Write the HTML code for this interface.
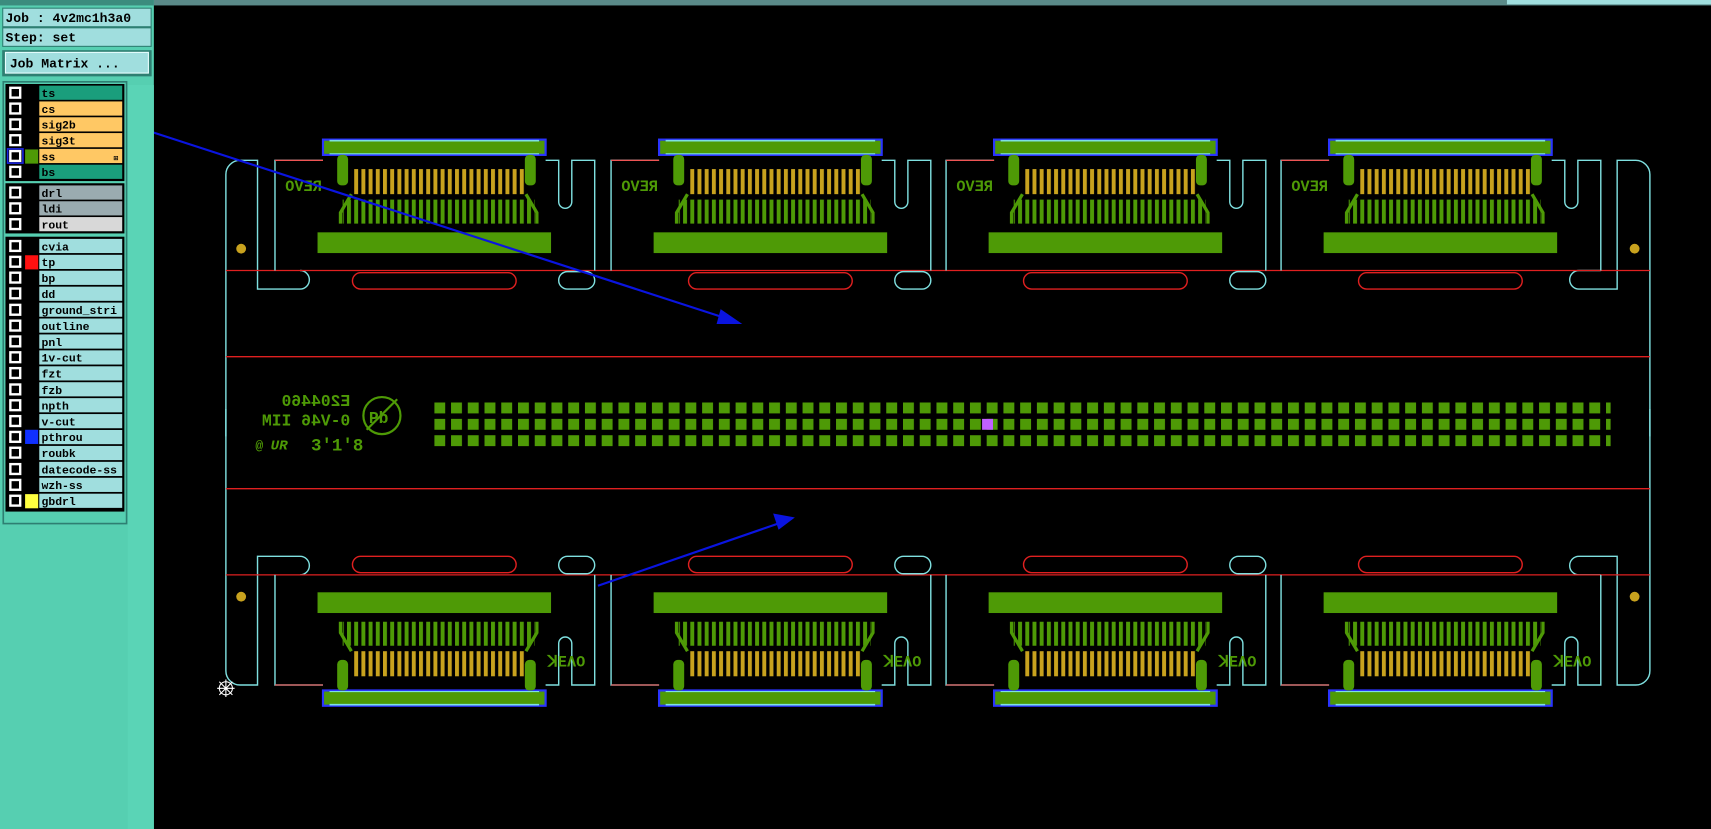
<!DOCTYPE html>
<html><head><meta charset="utf-8"><style>
html,body{margin:0;padding:0;background:#000;overflow:hidden}
svg{display:block}
text{font-family:"Liberation Mono","DejaVu Sans Mono",monospace;font-weight:bold}
</style></head><body>
<svg width="1711" height="829" viewBox="0 0 1568 760" preserveAspectRatio="none" xmlns="http://www.w3.org/2000/svg">
<defs>
<pattern id="fy" x="0" y="0" width="6.6" height="10" patternUnits="userSpaceOnUse"><rect x="0" y="0" width="3.6" height="10" fill="#c8a21e"/></pattern>
<pattern id="fg" x="0" y="0" width="6.6" height="10" patternUnits="userSpaceOnUse"><rect x="0" y="0" width="3.6" height="10" fill="#4e9a06"/></pattern>
<pattern id="pd" x="398" y="369" width="15.34" height="15" patternUnits="userSpaceOnUse"><rect x="0" y="0" width="10" height="10" fill="#4e9a06"/></pattern>
<g id="unit">
  <rect x="44" y="128" width="204" height="14" fill="#4e9a06" stroke="#2a34ff" stroke-width="2"/>
  <line x1="50" y1="129" x2="242" y2="129" stroke="#7fe0e0" stroke-width="1.5"/>
  <line x1="50" y1="141" x2="242" y2="141" stroke="#7fe0e0" stroke-width="1"/>
  <rect x="57" y="142" width="10" height="28" rx="4" fill="#4e9a06"/>
  <rect x="229" y="142" width="10" height="28" rx="4" fill="#4e9a06"/>
  <rect x="70" y="155" width="160" height="23" fill="url(#fy)"/>
  <path d="M70,178 L60,195 V205 M230,178 L240,195 V205" stroke="#4e9a06" stroke-width="3" fill="none"/>
  <rect x="62" y="183" width="176" height="22" fill="url(#fg)"/>
  <rect x="39" y="213" width="214" height="19" fill="#4e9a06"/>
  <path d="M0,248 V147 H44" stroke="#7fe0e0" stroke-width="1.3" fill="none"/>
  <line x1="0" y1="147" x2="44" y2="147" stroke="#ff4040" stroke-width="1"/>
  <path d="M248,147 H260 V185 A6 6 0 0 0 272,185 V147 H293 V248" stroke="#7fe0e0" stroke-width="1.3" fill="none"/>
  <rect x="71" y="250" width="150" height="15" rx="7.5" stroke="#e02020" stroke-width="1.3" fill="none"/>
</g>
<rect id="tab" x="0" y="249" width="33" height="16" rx="8" stroke="#7fe0e0" stroke-width="1.3" fill="none"/>
<g id="half">
  <path d="M207,400 V160 A13 13 0 0 1 220,147 H236 V265 H275 A8.5 8.5 0 0 0 275,248" stroke="#7fe0e0" stroke-width="1.3" fill="none"/>
  <path d="M1512,400 V160 A13 13 0 0 0 1499,147 H1482 V265 H1447 A8.5 8.5 0 0 1 1447,248 H1467" stroke="#7fe0e0" stroke-width="1.3" fill="none"/>
  <circle cx="221" cy="228" r="4.5" fill="#c8a21e"/>
  <circle cx="1498" cy="228" r="4.5" fill="#c8a21e"/>
  <line x1="207" y1="248" x2="1512" y2="248" stroke="#e02020" stroke-width="1.2"/>
  <line x1="207" y1="327" x2="1512" y2="327" stroke="#e02020" stroke-width="1.2"/>
  <use href="#unit" x="252"/><use href="#unit" x="560"/><use href="#unit" x="867"/><use href="#unit" x="1174"/>
  <use href="#tab" x="512"/><use href="#tab" x="820"/><use href="#tab" x="1127"/>
</g>
</defs>
<rect width="1568" height="760" fill="#000"/>
<use href="#half"/>
<use href="#half" transform="matrix(1 0 0 -1 0 775)"/>
<g fill="#4e9a06" font-size="14">
<text x="265" y="175" transform="matrix(-1 0 0 1 560 0)">REVO</text>
<text x="572" y="175" transform="matrix(-1 0 0 1 1175 0)">REVO</text>
<text x="880" y="175" transform="matrix(-1 0 0 1 1790 0)">REVO</text>
<text x="1187" y="175" transform="matrix(-1 0 0 1 2404 0)">REVO</text>
<text x="502" y="611">ꓘEΛO</text><text x="810" y="611">ꓘEΛO</text><text x="1117" y="611">ꓘEΛO</text><text x="1424" y="611">ꓘEΛO</text>
</g>
<g fill="#4e9a06" font-size="15" font-weight="normal">
<text x="0" y="0" transform="matrix(-1 0 0 1 321 372)">E204460</text>
<text x="0" y="0" transform="matrix(-1 0 0 1 321 390)">0-V46 IIM</text>
<text x="285" y="413" font-size="16">3'1'8</text>
<text x="234" y="412" font-size="12">@</text><text x="248" y="412" font-size="13" font-style="italic">UR</text>
</g>
<circle cx="350" cy="381" r="17" stroke="#4e9a06" stroke-width="2" fill="none"/>
<line x1="336" y1="394" x2="364" y2="366" stroke="#4e9a06" stroke-width="2"/>
<text x="338" y="388" fill="#4e9a06" font-size="15">Pb</text>
<rect x="398" y="369" width="1078" height="42" fill="url(#pd)"/>
<rect x="900" y="384" width="10" height="10" fill="#c060ff"/>
<g stroke="#fff" stroke-width="1" fill="none"><circle cx="207" cy="631" r="6"/><path d="M199,631H215M207,623V639M201,625L213,637M213,625L201,637"/></g>
<g stroke="#0a14e0" stroke-width="2" fill="#0a14e0">
<line x1="136" y1="120" x2="666" y2="292"/><polygon points="677,296 661,285 658,296"/>
<line x1="548" y1="537" x2="716" y2="479"/><polygon points="726,475 710,472 714,484"/>
</g>
<rect x="0" y="0" width="1568" height="5" fill="#5a8a88"/>
<rect x="1381" y="0" width="187" height="4" fill="#a0dede"/>
<rect x="0" y="0" width="141" height="760" fill="#56cfb1"/>
<rect x="0" y="0" width="141" height="5" fill="#3b8c7e"/>
<rect x="2" y="7" width="137" height="36" fill="#2e7f72"/>
<rect x="3" y="8" width="135" height="16" fill="#a0dede"/>
<rect x="3" y="26" width="135" height="16" fill="#a0dede"/>
<text x="5" y="20" font-size="12" font-weight="normal">Job : 4v2mc1h3a0</text>
<text x="5" y="38" font-size="12" font-weight="normal">Step: set</text>
<rect x="2" y="46" width="137" height="24" fill="#2e7f72"/>
<rect x="5" y="48" width="131" height="19" fill="#a0dede" stroke="#e8ffff" stroke-width="1"/>
<text x="9" y="62" font-size="12" font-weight="normal">Job Matrix ...</text>
<rect x="117" y="78" width="24" height="682" fill="#5ad4b6"/>
<rect x="3" y="75" width="113" height="405" fill="#56cfb1" stroke="#2e7f72" stroke-width="1.5"/>
<rect x="5" y="77" width="109" height="89" fill="#000"/>
<rect x="5" y="168" width="109" height="46" fill="#000"/>
<rect x="5" y="217" width="109" height="252" fill="#000"/>
<g font-size="10.5">
<rect x="36" y="78.5" width="76" height="13" fill="#1a9e7c"/><text x="38" y="89">ts</text>
<rect x="36" y="93" width="76" height="13" fill="#ffc864"/><text x="38" y="103.5">cs</text>
<rect x="36" y="107.5" width="76" height="13" fill="#ffc864"/><text x="38" y="118">sig2b</text>
<rect x="36" y="122" width="76" height="13" fill="#ffc864"/><text x="38" y="132.5">sig3t</text>
<rect x="36" y="136.5" width="76" height="13" fill="#ffc864"/><text x="38" y="147">ss</text><text x="104" y="147" font-size="7">⊞</text>
<rect x="36" y="151" width="76" height="13" fill="#1a9e7c"/><text x="38" y="161.5">bs</text>
<rect x="36" y="170" width="76" height="13" fill="#9aabb0"/><text x="38" y="180.5">drl</text>
<rect x="36" y="184.5" width="76" height="13" fill="#9aabb0"/><text x="38" y="195">ldi</text>
<rect x="36" y="199" width="76" height="13" fill="#d8d8d8"/><text x="38" y="209.5">rout</text>
</g>
<g fill="#a0dede">
<rect x="36" y="219" width="76" height="13"/><rect x="36" y="233.6" width="76" height="13"/><rect x="36" y="248.2" width="76" height="13"/><rect x="36" y="262.8" width="76" height="13"/><rect x="36" y="277.4" width="76" height="13"/><rect x="36" y="292" width="76" height="13"/><rect x="36" y="306.6" width="76" height="13"/><rect x="36" y="321.2" width="76" height="13"/><rect x="36" y="335.8" width="76" height="13"/><rect x="36" y="350.4" width="76" height="13"/><rect x="36" y="365" width="76" height="13"/><rect x="36" y="379.6" width="76" height="13"/><rect x="36" y="394.2" width="76" height="13"/><rect x="36" y="408.8" width="76" height="13"/><rect x="36" y="423.4" width="76" height="13"/><rect x="36" y="438" width="76" height="13"/><rect x="36" y="452.6" width="76" height="13"/>
</g>
<g font-size="10.5">
<text x="38" y="229.5">cvia</text><text x="38" y="244">tp</text><text x="38" y="258.5">bp</text><text x="38" y="273">dd</text><text x="38" y="288">ground_stri</text><text x="38" y="302.5">outline</text><text x="38" y="317">pnl</text><text x="38" y="331.5">1v-cut</text><text x="38" y="346">fzt</text><text x="38" y="361">fzb</text><text x="38" y="375.5">npth</text><text x="38" y="390">v-cut</text><text x="38" y="404.5">pthrou</text><text x="38" y="419">roubk</text><text x="38" y="434">datecode-ss</text><text x="38" y="448.5">wzh-ss</text><text x="38" y="463">gbdrl</text>
</g>
<g fill="#000" stroke="#fff" stroke-width="2.2">
<rect x="9.5" y="80.5" width="9" height="9"/><rect x="9.5" y="95" width="9" height="9"/><rect x="9.5" y="109.5" width="9" height="9"/><rect x="9.5" y="124" width="9" height="9"/><rect x="9.5" y="138.5" width="9" height="9"/><rect x="9.5" y="153" width="9" height="9"/>
<rect x="9.5" y="172" width="9" height="9"/><rect x="9.5" y="186.5" width="9" height="9"/><rect x="9.5" y="201" width="9" height="9"/>
<rect x="9.5" y="221" width="9" height="9"/><rect x="9.5" y="235.5" width="9" height="9"/><rect x="9.5" y="250" width="9" height="9"/><rect x="9.5" y="264.5" width="9" height="9"/><rect x="9.5" y="279.5" width="9" height="9"/><rect x="9.5" y="294" width="9" height="9"/><rect x="9.5" y="308.5" width="9" height="9"/><rect x="9.5" y="323" width="9" height="9"/><rect x="9.5" y="337.5" width="9" height="9"/><rect x="9.5" y="352.5" width="9" height="9"/><rect x="9.5" y="367" width="9" height="9"/><rect x="9.5" y="381.5" width="9" height="9"/><rect x="9.5" y="396" width="9" height="9"/><rect x="9.5" y="410.5" width="9" height="9"/><rect x="9.5" y="425.5" width="9" height="9"/><rect x="9.5" y="440" width="9" height="9"/><rect x="9.5" y="454.5" width="9" height="9"/>
</g>
<rect x="7" y="136.5" width="14" height="13" fill="none" stroke="#1a24e0" stroke-width="1.5"/>
<rect x="23" y="137" width="12" height="13" fill="#4e9a06"/>
<rect x="23" y="234" width="12" height="13" fill="#ff1010"/>
<rect x="23" y="394" width="12" height="13" fill="#1030ff"/>
<rect x="23" y="453" width="12" height="13" fill="#ffff40"/>
</svg>
</body></html>
